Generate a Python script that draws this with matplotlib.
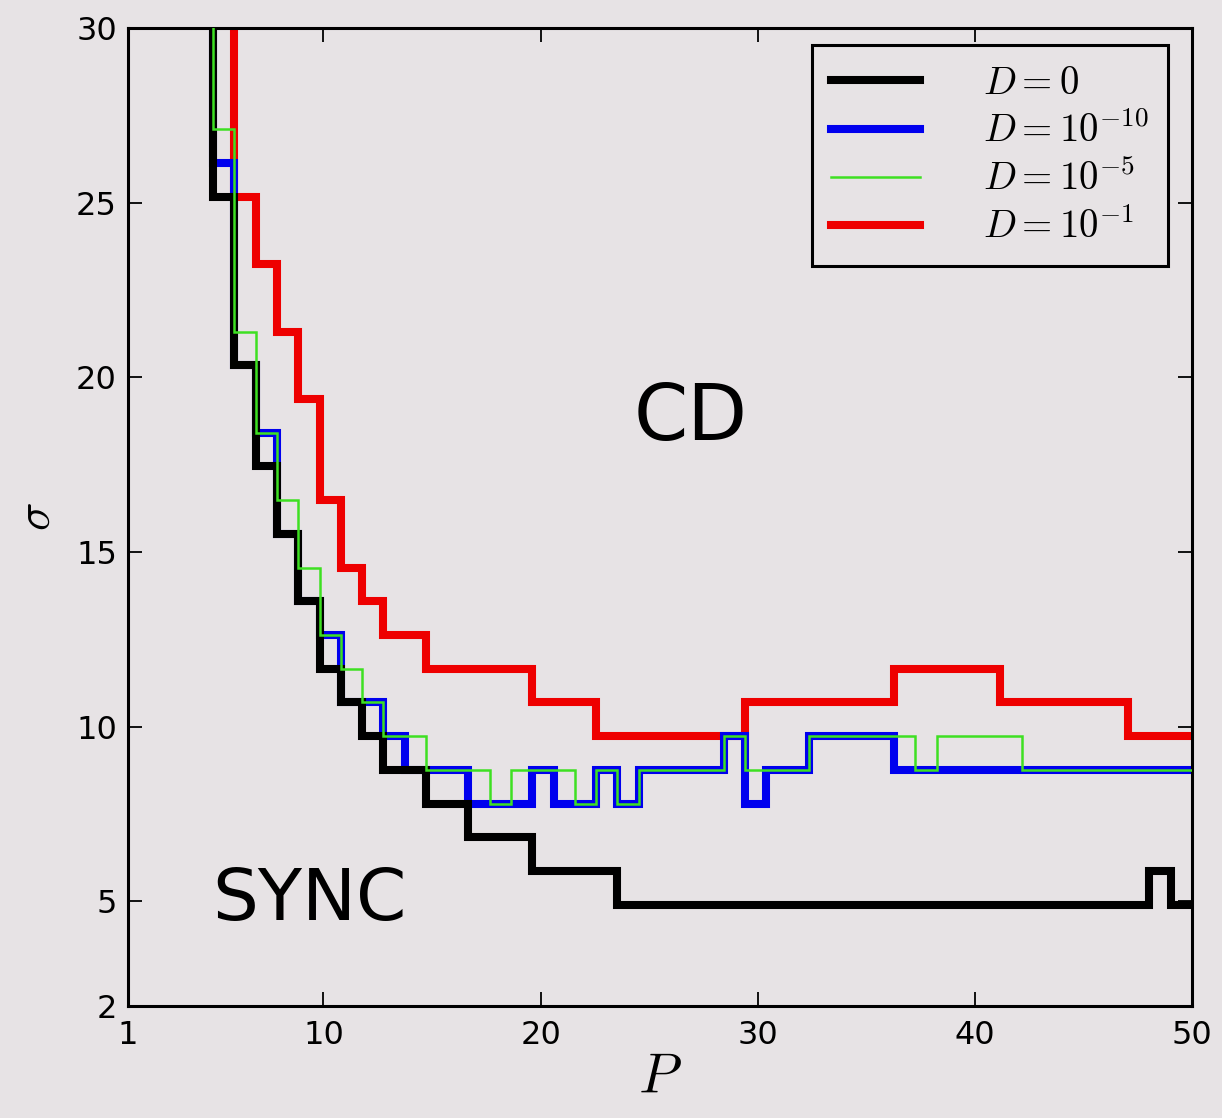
import matplotlib
matplotlib.use("Agg")
import matplotlib.pyplot as plt

# step boundaries in P and the sigma level on each step, one set per noise level
p_black = [3.94, 4.92, 5.90, 6.88, 7.86, 8.84, 9.82, 10.80, 11.78, 12.76, 14.72,
           16.68, 19.62, 23.54, 48.04, 49.02, 50.0]
s_black = [31, 25.17, 20.34, 17.45, 15.52, 13.59, 11.66, 10.69, 9.72, 8.76, 7.79,
           6.83, 5.86, 4.90, 5.86, 4.90]

p_blue = [3.94, 4.92, 5.90, 6.88, 7.86, 8.84, 9.82, 10.80, 11.78, 12.76, 13.74,
          16.68, 19.62, 20.60, 22.56, 23.54, 24.52, 28.44, 29.42, 30.40, 32.36, 36.28, 50.0]
s_blue = [31, 26.14, 20.34, 18.41, 15.52, 13.59, 12.62, 10.69, 10.69, 9.72, 8.76,
          7.79, 8.76, 7.79, 8.76, 7.79, 8.76, 9.72, 7.79, 8.76, 9.72, 8.76]

p_green = [3.94, 4.92, 5.90, 6.88, 7.86, 8.84, 9.82, 10.80, 11.78, 12.76, 14.72,
           17.66, 18.64, 21.58, 22.56, 23.54, 24.52, 28.44, 29.42, 32.36, 37.26, 38.24, 42.16, 50.0]
s_green = [31, 27.10, 21.31, 18.41, 16.48, 14.55, 12.62, 11.66, 10.69, 9.72, 8.76,
           7.79, 8.76, 7.79, 8.76, 7.79, 8.76, 9.72, 8.76, 9.72, 8.76, 9.72, 8.76]

p_red = [4.92, 5.90, 6.88, 7.86, 8.84, 9.82, 10.80, 11.78, 12.76, 14.72, 19.62,
         22.56, 29.42, 36.28, 41.18, 47.06, 50.0]
s_red = [31, 25.17, 23.24, 21.31, 19.38, 16.48, 14.55, 13.59, 12.62, 11.66, 10.69,
         9.72, 10.69, 11.66, 10.69, 9.72]

labels = [r"$D=0$", r"$D=10^{-10}$", r"$D=10^{-5}$", r"$D=10^{-1}$"]
x_ticks = [1, 10, 20, 30, 40, 50]
y_ticks = [2, 5, 10, 15, 20, 25, 30]

bg = "#e7e3e5"
plt.rcParams["mathtext.fontset"] = "cm"
plt.rcParams["font.family"] = "DejaVu Sans"

fig = plt.figure(figsize=(12.22, 11.18), dpi=100, facecolor=bg)
ax = fig.add_axes([128 / 1222, 1 - 1006 / 1118, 1064 / 1222, 978 / 1118])
ax.set_facecolor(bg)

h_black = ax.stairs(s_black, p_black, baseline=None, color="black", lw=5.8, zorder=3, label=labels[0])
h_blue = ax.stairs(s_blue, p_blue, baseline=None, color="#0000ee", lw=5.8, zorder=2, label=labels[1])
h_green = ax.stairs(s_green, p_green, baseline=None, color="#3ee022", lw=1.8, zorder=4, label=labels[2])
h_red = ax.stairs(s_red, p_red, baseline=None, color="#ee0000", lw=5.8, zorder=1, label=labels[3])

ax.set_xlim(1, 50)
ax.set_ylim(2, 30)
ax.set_xticks(x_ticks)
ax.set_yticks(y_ticks)
ax.tick_params(direction="in", length=10, width=1.3, top=True, right=True,
               labelsize=23, pad=10)
ax.tick_params(axis="y", pad=8)
for sp in ax.spines.values():
    sp.set_linewidth(2.2)

ax.set_xlabel(r"$P$", fontsize=40, labelpad=0)
ax.set_ylabel(r"$\sigma$", fontsize=34, labelpad=12)

ax.text(26.9, 18.2, "CD", fontsize=56, ha="center", va="baseline")
ax.text(9.34, 4.46, "SYNC", fontsize=52, ha="center", va="baseline")

leg = ax.legend(handles=[h_black, h_blue, h_green, h_red], loc="upper right",
                bbox_to_anchor=(0.9775, 0.983), fontsize=28, fancybox=False,
                framealpha=1, facecolor=bg, edgecolor="black",
                handlelength=2.3, handletextpad=1.6, labelspacing=0.25,
                borderpad=0.5, borderaxespad=0.0)
leg.get_frame().set_linewidth(2.2)

fig.savefig("out.png", dpi=100, facecolor=bg)
